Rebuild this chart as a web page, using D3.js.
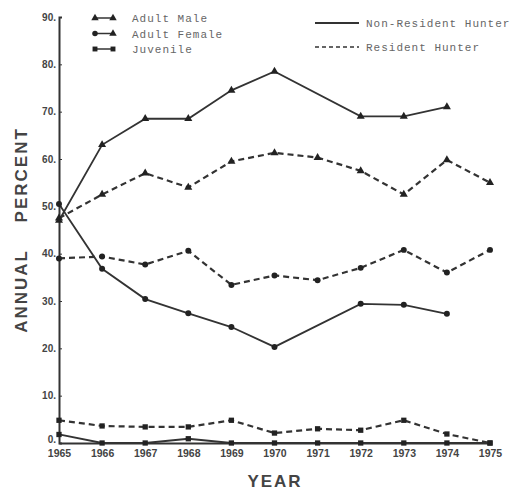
<!DOCTYPE html>
<html>
<head>
<meta charset="utf-8">
<script src="https://cdn.jsdelivr.net/npm/d3@7"></script>
<style>
  body { margin: 0; background: #fff; }
  svg { display: block; }
  .tick-label { font-family: "Liberation Sans", Arial, sans-serif; font-weight: bold; font-size: 10px; fill: #444; }
  .legend text { font-family: "Liberation Mono", "DejaVu Sans Mono", monospace; font-size: 11px; fill: #666; letter-spacing: 1px; }
  .axis-title { font-family: "Liberation Sans", Arial, sans-serif; font-weight: bold; font-size: 17px; fill: #444; letter-spacing: 2px; }
</style>
</head>
<body>
<svg width="511" height="493"></svg>
<script>
const years = [1965, 1966, 1967, 1968, 1969, 1970, 1971, 1972, 1973, 1974, 1975];
const yTicks = [0, 10, 20, 30, 40, 50, 60, 70, 80, 90];

// null = no observation that year
const nonResMale     = [47, 63, 68.5, 68.5, 74.5, 78.5, null, 69, 69, 71, null];
const nonResFemale   = [50.5, 36.8, 30.4, 27.4, 24.5, 20.3, null, 29.4, 29.2, 27.3, null];
const nonResJuvenile = [1.8, 0, 0, 0.9, 0, 0, 0, 0, 0, 0, 0];
const resMale        = [47.5, 52.5, 57, 54, 59.5, 61.3, 60.3, 57.5, 52.5, 59.8, 55];
const resFemale      = [39, 39.4, 37.7, 40.6, 33.4, 35.4, 34.4, 37, 40.8, 36, 40.8];
const resJuvenile    = [4.8, 3.6, 3.4, 3.4, 4.8, 2.1, 3, 2.7, 4.8, 1.9, 0];

const series = [
    {values: nonResMale, shape: d3.symbolTriangle, dashed: false},
    {values: nonResFemale, shape: d3.symbolCircle, dashed: false},
    {values: nonResJuvenile, shape: d3.symbolSquare, dashed: false},
    {values: resMale, shape: d3.symbolTriangle, dashed: true},
    {values: resFemale, shape: d3.symbolCircle, dashed: true},
    {values: resJuvenile, shape: d3.symbolSquare, dashed: true}
];

let svg = d3.select('svg'),
    xScale = d3.scaleLinear().domain([1965, 1975]).range([59, 490]),
    yScale = d3.scaleLinear().domain([0, 90]).range([443, 17]),
    ink = '#333';

// axes
let yAxis = svg.append('g')
    .attr('transform', `translate(${xScale(1965)},0)`)
    .call(d3.axisLeft(yScale).tickValues(yTicks).tickSize(-3).tickFormat(d => d + '.'));
yAxis.select('.domain').attr('stroke', ink).attr('stroke-width', 2);
yAxis.selectAll('.tick line').attr('stroke', ink);
yAxis.selectAll('.tick text').attr('class', 'tick-label').attr('x', -3)
    .attr('dy', d => d === 0 ? '-0.1em' : '0.32em');

let xAxis = svg.append('g')
    .attr('transform', `translate(0,${yScale(0)})`)
    .call(d3.axisBottom(xScale).tickValues(years).tickSize(0).tickFormat(d3.format('d')));
xAxis.select('.domain').attr('stroke', ink).attr('stroke-width', 2);
xAxis.selectAll('.tick text').attr('class', 'tick-label').attr('dy', '1.05em')
    .style('font-size', '10.5px');

// lines + markers
let line = d3.line()
    .x(d => xScale(d.year))
    .y(d => yScale(d.v));

series.forEach(function(s) {
    let pts = years.map((y, i) => ({year: y, v: s.values[i]})).filter(d => d.v !== null);
    svg.append('path')
        .datum(pts)
        .attr('d', line)
        .attr('fill', 'none')
        .attr('stroke', ink)
        .attr('stroke-width', s.dashed ? 2.2 : 1.8)
        .attr('stroke-dasharray', s.dashed ? '6,4' : null);

    svg.selectAll(null)
        .data(pts)
        .enter()
        .append('path')
        .attr('transform', d => `translate(${xScale(d.year)},${yScale(d.v)})`)
        .attr('d', d3.symbol().type(s.shape).size(28))
        .attr('fill', '#222');
});

// legends
let legendLeft = svg.append('g').attr('class', 'legend');
const leftItems = [
    {label: 'Adult Male', a: d3.symbolTriangle, b: d3.symbolTriangle},
    {label: 'Adult Female', a: d3.symbolCircle, b: d3.symbolTriangle},
    {label: 'Juvenile', a: d3.symbolSquare, b: d3.symbolSquare}
];
leftItems.forEach(function(item, i) {
    let y = 18 + i * 15.5;
    legendLeft.append('line').attr('x1', 95).attr('x2', 113).attr('y1', y).attr('y2', y)
        .attr('stroke', ink).attr('stroke-width', 1.5);
    legendLeft.append('path').attr('transform', `translate(95,${y})`)
        .attr('d', d3.symbol().type(item.a).size(24)).attr('fill', '#222');
    legendLeft.append('path').attr('transform', `translate(113,${y})`)
        .attr('d', d3.symbol().type(item.b).size(24)).attr('fill', '#222');
    legendLeft.append('text').attr('x', 132).attr('y', y + 4).text(item.label);
});

let legendRight = svg.append('g').attr('class', 'legend');
[{label: 'Non-Resident Hunter', dashed: false}, {label: 'Resident Hunter', dashed: true}]
    .forEach(function(item, i) {
        let y = 23 + i * 24;
        legendRight.append('line').attr('x1', 315).attr('x2', 359).attr('y1', y).attr('y2', y)
            .attr('stroke', ink).attr('stroke-width', item.dashed ? 1.6 : 2.2)
            .attr('stroke-dasharray', item.dashed ? '4,3' : null);
        legendRight.append('text').attr('x', 366).attr('y', y + 4).text(item.label);
    });

// axis titles
svg.append('text').attr('class', 'axis-title')
    .attr('x', 275).attr('y', 487).attr('text-anchor', 'middle').text('YEAR');

svg.append('text').attr('class', 'axis-title')
    .attr('transform', 'translate(27,230) rotate(-90)')
    .attr('text-anchor', 'middle')
    .attr('xml:space', 'preserve')
    .text('ANNUAL    PERCENT');
</script>
</body>
</html>
